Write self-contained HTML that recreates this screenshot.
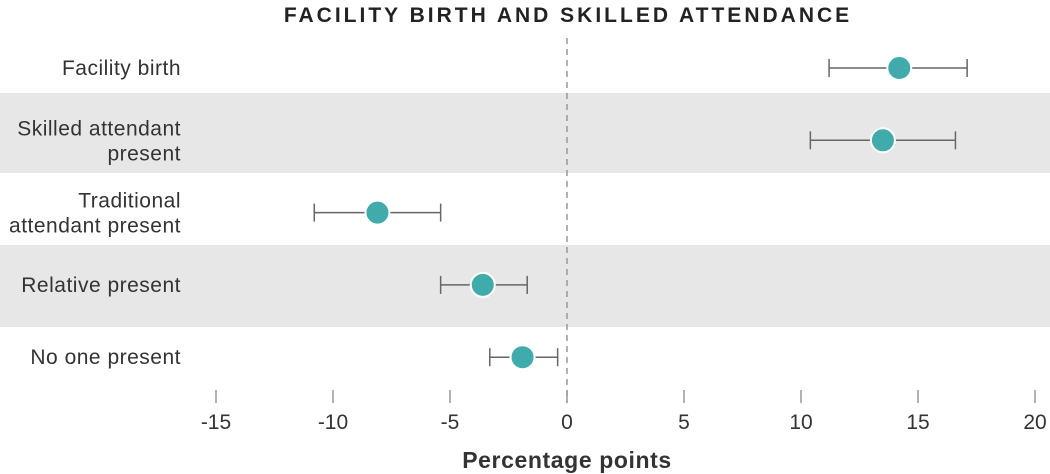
<!DOCTYPE html>
<html><head><meta charset="utf-8"><style>
body{margin:0;background:#fff;}
svg{display:block;font-family:"Liberation Sans",sans-serif;}
</style></head><body>
<svg id="c" width="1050" height="474"></svg>
<script>
const categories=[["Facility birth"],["Skilled attendant","present"],["Traditional","attendant present"],["Relative present"],["No one present"]];
const estimates=[14.2,13.5,-8.1,-3.6,-1.9];
const lowers=[11.2,10.4,-10.8,-5.4,-3.3];
const uppers=[17.1,16.6,-5.4,-1.7,-0.4];
const ticks=[-15,-10,-5,0,5,10,15,20];
const NS="http://www.w3.org/2000/svg";
const svg=document.getElementById('c');
const x=v=>567+v*23.4;
const y=i=>68+i*72.3;
function mk(t,a,p){const e=document.createElementNS(NS,t);for(const k in a)e.setAttribute(k,a[k]);(p||svg).appendChild(e);return e;}
[[93,80],[245,82]].forEach(b=>{const r=mk('rect',{x:0,y:b[0],width:1050,height:b[1],fill:'#e6e7e6'});

});
let t=mk('text',{x:568,y:22,'text-anchor':'middle','font-size':21,'font-weight':'bold','letter-spacing':'3',fill:'#222'});t.textContent='FACILITY BIRTH AND SKILLED ATTENDANCE';


let z=mk('line',{x1:x(0),x2:x(0),y1:38,y2:403,stroke:'#999','stroke-width':1.5,'stroke-dasharray':'6,5'});


ticks.forEach(v=>{const l=mk('line',{x1:x(v),x2:x(v),y1:390,y2:403,stroke:'#999','stroke-width':1.5});


const tx=mk('text',{x:x(v),y:429,'text-anchor':'middle','font-size':21,fill:'#333'});tx.textContent=v;

});
let at=mk('text',{x:567,y:468,'text-anchor':'middle','font-size':23,'font-weight':'bold','letter-spacing':'0.6',fill:'#333'});at.textContent='Percentage points';


categories.forEach((c,i)=>{const cy=y(i);
const lab=mk('text',{x:181,y:cy+7-(c.length-1)*12,'text-anchor':'end','font-size':21,'letter-spacing':'0.5',fill:'#333'});


c.forEach((s,j)=>{const ts=mk('tspan',{x:181,dy:j?25:0},lab);ts.textContent=s;});
const g=mk('g',{});


mk('line',{x1:x(lowers[i]),x2:x(uppers[i]),y1:cy,y2:cy,stroke:'#666','stroke-width':1.5},g);
[lowers[i],uppers[i]].forEach(v=>mk('line',{x1:x(v),x2:x(v),y1:cy-9,y2:cy+9,stroke:'#666','stroke-width':1.5},g));
mk('circle',{cx:x(estimates[i]),cy:cy,r:12,fill:'#41aaaa',stroke:'#fff','stroke-width':2},g);
});
</script>
</body></html>
